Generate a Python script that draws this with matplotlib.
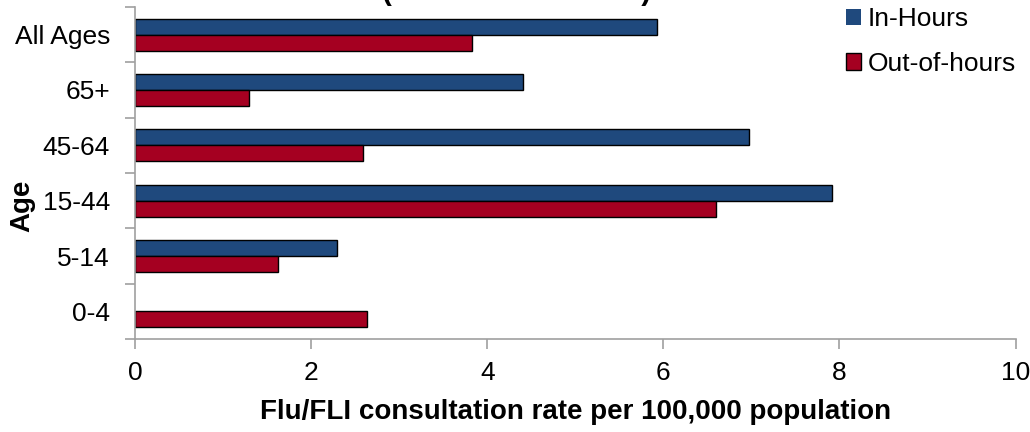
"""Flu/FLI consultation rates by age group, in-hours vs out-of-hours."""

import matplotlib
matplotlib.use('Agg')
import numpy as np
import matplotlib.pyplot as plt

# data
ages = ['0-4', '5-14', '15-44', '45-64', '65+', 'All Ages']
in_hours = [0.0, 2.30, 7.92, 6.97, 4.41, 5.93]
out_of_hours = [2.63, 1.62, 6.60, 2.59, 1.30, 3.83]
xticks = [0, 2, 4, 6, 8, 10]

plt.rcParams['font.family'] = ['Liberation Sans', 'DejaVu Sans']

fig = plt.figure(figsize=(10.3, 4.32), dpi=100)
ax = fig.add_axes([0.131, 0.215, 0.855, 0.769])

y = np.arange(len(ages))
h = 0.29
# no outline on empty bars
lw_in = [0 if v == 0 else 1 for v in in_hours]
lw_out = [0 if v == 0 else 1 for v in out_of_hours]
ax.barh(y + h / 2, in_hours, height=h, color='#1F497D', edgecolor='black',
        linewidth=lw_in, label='In-Hours')
ax.barh(y - h / 2, out_of_hours, height=h, color='#A50021', edgecolor='black',
        linewidth=lw_out, label='Out-of-hours')

ax.set_xlim(0, 10)
ax.set_ylim(-0.5, len(ages) - 0.5)
ax.set_xticks(xticks)
ax.set_yticks(y)
ax.set_yticklabels(ages)
ax.set_yticks(np.arange(-0.5, len(ages)), minor=True)
ax.tick_params(axis='y', which='major', length=0, pad=18, labelsize=19)
ax.tick_params(axis='y', which='minor', length=7, color='#a0a0a0', width=1.2)
ax.tick_params(axis='x', length=7, color='#a0a0a0', width=1.2, labelsize=19, pad=9)

for s in ['top', 'right']:
    ax.spines[s].set_visible(False)
for s in ['left', 'bottom']:
    ax.spines[s].set_color('#a0a0a0')
    ax.spines[s].set_linewidth(1.2)

ax.set_xlabel('Flu/FLI consultation rate per 100,000 population',
              fontsize=20, fontweight='bold', labelpad=10)
ax.set_ylabel('Age', fontsize=20, fontweight='bold', va='center')
ax.yaxis.set_label_coords(-0.128, 0.40)

# title is mostly cut off at the top of the picture
fig.text(0.502, 0.999, '(Great Britain 2010)', ha='center', va='baseline',
         fontsize=21, fontweight='bold')

fig.legend(loc='upper left', bbox_to_anchor=(0.821, 0.983), frameon=False,
           fontsize=19, handlelength=0.57, handleheight=0.57, handletextpad=0.27,
           labelspacing=0.78, borderaxespad=0, borderpad=0)

fig.savefig('out.png', dpi=100)
